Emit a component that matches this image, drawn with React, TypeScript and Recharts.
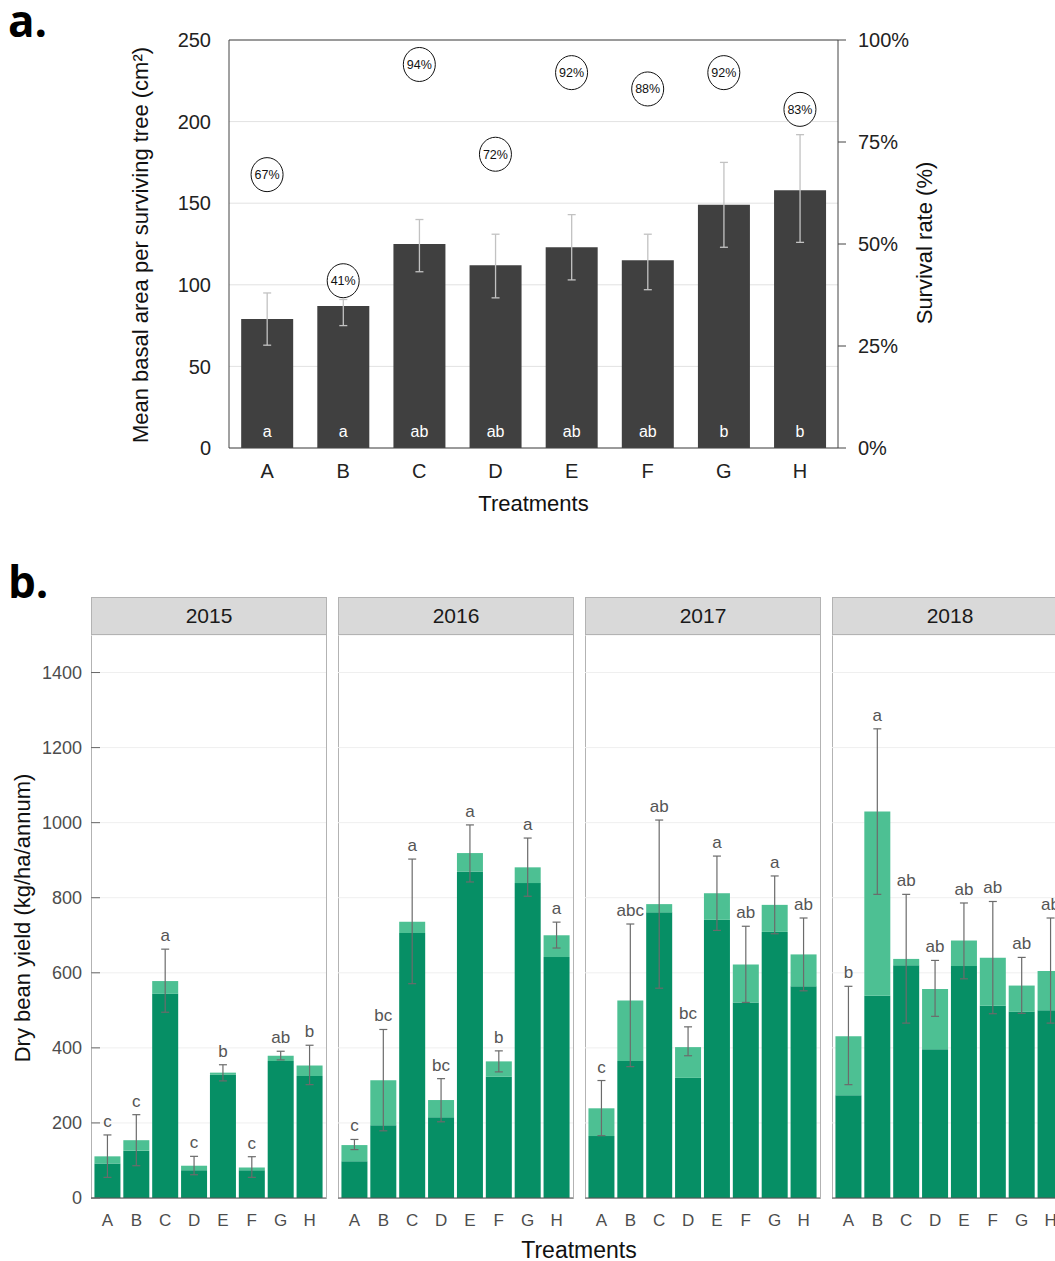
import React from "react";
import {
  ComposedChart,
  Bar,
  Line,
  XAxis,
  YAxis,
  CartesianGrid,
  ErrorBar,
  LabelList,
  ReferenceLine,
} from "recharts";

const FONT = '"Liberation Sans", Arial, sans-serif';
const DARK = "#068f65";
const LIGHT = "#4dc093";

const treatments = ["A", "B", "C", "D", "E", "F", "G", "H"];

// panel a: basal area per surviving tree + survival rate
const basalArea = [79, 87, 125, 112, 123, 115, 149, 158];
const basalLow = [63, 75, 108, 92, 103, 97, 123, 126];
const basalHigh = [95, 91, 140, 131, 143, 131, 175, 192];
const basalLetters = ["a", "a", "ab", "ab", "ab", "ab", "b", "b"];
const survivalRate = [67, 41, 94, 72, 92, 88, 92, 83];

// panel b: dry bean yield by year
const years = ["2015", "2016", "2017", "2018"];
const totalYield = [
  [111, 154, 578, 86, 334, 81, 379, 353],
  [141, 314, 736, 261, 919, 364, 881, 700],
  [239, 526, 783, 402, 812, 622, 781, 649],
  [431, 1030, 637, 557, 686, 640, 566, 605],
];
const baseYield = [
  [92, 126, 544, 74, 329, 74, 365, 325],
  [98, 194, 706, 215, 870, 323, 839, 642],
  [165, 365, 761, 320, 741, 521, 709, 564],
  [274, 539, 620, 396, 618, 512, 496, 500],
];
const yieldLow = [
  [55, 86, 495, 62, 312, 55, 368, 302],
  [129, 179, 571, 203, 842, 336, 804, 666],
  [166, 350, 559, 379, 713, 521, 704, 552],
  [302, 809, 466, 484, 584, 491, 492, 466],
];
const yieldHigh = [
  [168, 222, 663, 111, 355, 110, 391, 407],
  [156, 449, 903, 318, 994, 392, 959, 735],
  [313, 730, 1007, 456, 911, 724, 858, 746],
  [564, 1250, 809, 633, 786, 790, 641, 746],
];
const yieldLetters = [
  ["c", "c", "a", "c", "b", "c", "ab", "b"],
  ["c", "bc", "a", "bc", "a", "b", "a", "a"],
  ["c", "abc", "ab", "bc", "a", "ab", "a", "ab"],
  ["b", "a", "ab", "ab", "ab", "ab", "ab", "ab"],
];
const yieldTicks = [0, 200, 400, 600, 800, 1000, 1200, 1400];

const basalData = treatments.map((t, i) => ({
  t,
  area: basalArea[i],
  err: [basalArea[i] - basalLow[i], basalHigh[i] - basalArea[i]],
  survival: survivalRate[i],
  letter: basalLetters[i],
}));

function renderSurvival(p: any) {
  const { cx, cy, value, index } = p;
  if (cx == null || cy == null) return <g key={index} />;
  return (
    <g key={index}>
      <ellipse cx={cx} cy={cy} rx={16} ry={17} fill="#fff" stroke="#111" strokeWidth={1} />
      <text x={cx} y={cy} dy={4.5} textAnchor="middle" fontSize={12.5} fill="#111" fontFamily={FONT}>
        {value}%
      </text>
    </g>
  );
}

function PanelA() {
  return (
    <ComposedChart
      width={1055}
      height={530}
      data={basalData}
      margin={{ top: 40, right: 157, left: 169, bottom: 22 }}
      barCategoryGap="16%"
      style={{ position: "absolute", left: 0, top: 0 }}
    >
      <CartesianGrid yAxisId="left" vertical={false} stroke="#e2e2e2" />
      <XAxis
        dataKey="t"
        height={60}
        axisLine={{ stroke: "#444" }}
        tickLine={false}
        tickSize={0}
        tickMargin={16}
        tick={{ fill: "#222", fontSize: 20, fontFamily: FONT }}
        label={(p: any) => (
          <text
            x={p.viewBox.x + p.viewBox.width / 2}
            y={511}
            textAnchor="middle"
            fontSize={22}
            fill="#111"
            fontFamily={FONT}
          >
            Treatments
          </text>
        )}
      />
      <YAxis
        yAxisId="left"
        domain={[0, 250]}
        ticks={[0, 50, 100, 150, 200, 250]}
        width={60}
        axisLine={{ stroke: "#444" }}
        tickLine={false}
        tickSize={0}
        tickMargin={18}
        tick={{ fill: "#222", fontSize: 20, fontFamily: FONT }}
        label={() => (
          <text
            x={140}
            y={245}
            transform="rotate(-90 140 245)"
            textAnchor="middle"
            dominantBaseline="central"
            fontSize={22}
            fill="#111"
            fontFamily={FONT}
          >
            Mean basal area per surviving tree (cm²)
          </text>
        )}
      />
      <YAxis
        yAxisId="right"
        orientation="right"
        domain={[0, 100]}
        ticks={[0, 25, 50, 75, 100]}
        tickFormatter={(v) => `${v}%`}
        width={60}
        axisLine={{ stroke: "#444" }}
        tickLine={{ stroke: "#444" }}
        tickSize={8}
        tickMargin={12}
        tick={{ fill: "#222", fontSize: 20, fontFamily: FONT }}
        label={() => (
          <text
            x={924}
            y={243}
            transform="rotate(-90 924 243)"
            textAnchor="middle"
            dominantBaseline="central"
            fontSize={22}
            fill="#111"
            fontFamily={FONT}
          >
            Survival rate (%)
          </text>
        )}
      />
      <ReferenceLine yAxisId="left" y={250} stroke="#444" />
      <Bar yAxisId="left" dataKey="area" fill="#404040" isAnimationActive={false}>
        <ErrorBar dataKey="err" width={4} stroke="#c2c2c2" strokeWidth={1.3} />
        <LabelList
          dataKey="letter"
          content={(p: any) => (
            <text
              x={p.x + p.width / 2}
              y={p.y + p.height - 11}
              textAnchor="middle"
              fill="#fff"
              fontSize={16}
              fontFamily={FONT}
            >
              {p.value}
            </text>
          )}
        />
      </Bar>
      <Line
        yAxisId="right"
        dataKey="survival"
        stroke="none"
        dot={renderSurvival}
        activeDot={false}
        isAnimationActive={false}
      />
    </ComposedChart>
  );
}

function YieldTick({ x, y, payload }: any) {
  return (
    <g>
      <text x={x} y={y} dy={6} textAnchor="end" fill="#4d4d4d" fontSize={18} fontFamily={FONT}>
        {payload.value}
      </text>
      <line x1={x + 9} x2={x + 18} y1={y} y2={y} stroke="#666" />
    </g>
  );
}

function YearPanel({ k }: { k: number }) {
  const first = k === 0;
  const panelX = 91 + k * 247;
  const axisW = first ? 91 : 0;
  const data = treatments.map((t, i) => ({
    t,
    base: baseYield[k][i],
    extra: totalYield[k][i] - baseYield[k][i],
    total: totalYield[k][i],
    err: [totalYield[k][i] - yieldLow[k][i], yieldHigh[k][i] - totalYield[k][i]],
    hi: yieldHigh[k][i],
  }));
  return (
    <>
      <div
        style={{
          position: "absolute",
          left: panelX,
          top: 634,
          width: 236,
          height: 565,
          boxSizing: "border-box",
          border: "1px solid #b3b3b3",
        }}
      />
      <div
        style={{
          position: "absolute",
          left: panelX,
          top: 597,
          width: 236,
          height: 38,
          boxSizing: "border-box",
          border: "1px solid #b3b3b3",
          background: "#d9d9d9",
          fontFamily: FONT,
          fontSize: 21,
          color: "#1a1a1a",
          textAlign: "center",
          lineHeight: "36px",
        }}
      >
        {years[k]}
      </div>
      <ComposedChart
        width={235 + axisW}
        height={603}
        data={data}
        margin={{ top: 0, right: 0, left: 0, bottom: 0 }}
        barCategoryGap="5%"
        style={{ position: "absolute", left: panelX - axisW, top: 635 }}
      >
        <CartesianGrid vertical={false} stroke="#efefef" />
        <XAxis
          dataKey="t"
          height={40}
          interval={0}
          padding={{ left: 2, right: 2 }}
          axisLine={{ stroke: "#555" }}
          tickLine={false}
          tickSize={0}
          tickMargin={16}
          tick={{ fill: "#4d4d4d", fontSize: 17, fontFamily: FONT }}
        />
        <YAxis
          hide={!first}
          width={91}
          domain={[0, 1500]}
          ticks={yieldTicks}
          axisLine={false}
          tickLine={false}
          tickSize={0}
          tickMargin={9}
          tick={<YieldTick />}
          label={
            first
              ? () => (
                  <text
                    x={22}
                    y={283}
                    transform="rotate(-90 22 283)"
                    textAnchor="middle"
                    dominantBaseline="central"
                    fontSize={22}
                    fill="#111"
                    fontFamily={FONT}
                  >
                    Dry bean yield (kg/ha/annum)
                  </text>
                )
              : undefined
          }
        />
        <Bar dataKey="base" stackId="s" fill={DARK} isAnimationActive={false} />
        <Bar dataKey="extra" stackId="s" fill={LIGHT} isAnimationActive={false} />
        <Line dataKey="total" stroke="none" dot={false} activeDot={false} isAnimationActive={false}>
          <ErrorBar dataKey="err" width={4} stroke="#6b6b6b" strokeWidth={1.2} />
        </Line>
        <Line
          dataKey="hi"
          stroke="none"
          dot={false}
          activeDot={false}
          isAnimationActive={false}
          label={(p: any) => (
            <text
              x={p.x}
              y={p.y - 8}
              textAnchor="middle"
              fill="#555"
              fontSize={17}
              fontFamily={FONT}
            >
              {yieldLetters[k][p.index]}
            </text>
          )}
        />
      </ComposedChart>
    </>
  );
}

export default function App() {
  return (
    <div
      style={{
        position: "absolute",
        left: 0,
        top: 0,
        width: 1055,
        height: 1261,
        overflow: "hidden",
        background: "#fff",
      }}
    >
      <PanelA />
      {years.map((y, k) => (
        <YearPanel key={y} k={k} />
      ))}
      <svg width={1055} height={1261} style={{ position: "absolute", left: 0, top: 0, pointerEvents: "none" }}>
        <text x={8} y={37} fontSize={44} fontWeight={700} fill="#000" fontFamily='"Open Sans", sans-serif'>
          a.
        </text>
        <text x={8} y={598} fontSize={44} fontWeight={700} fill="#000" fontFamily='"Open Sans", sans-serif'>
          b.
        </text>
        <text x={579} y={1258} textAnchor="middle" fontSize={23} fill="#111" fontFamily={FONT}>
          Treatments
        </text>
      </svg>
    </div>
  );
}
